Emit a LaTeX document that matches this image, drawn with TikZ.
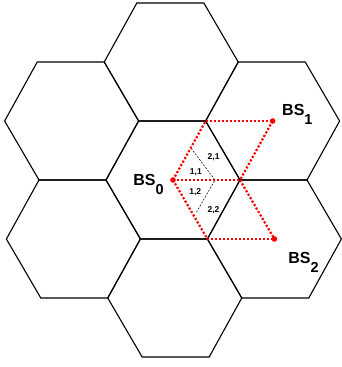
\documentclass[tikz,border=0pt]{standalone}
\usepackage{fontspec}
\usepackage{graphicx}
\setmainfont{Liberation Sans}
\begin{document}
\begin{tikzpicture}[x=1pt,y=-1pt,
  hexline/.style={line width=1.1pt,line join=miter},
  reddot/.style={draw=none,fill=red,circle,minimum size=5.6pt,inner sep=0pt},
  redline/.style={red,line width=2.2pt,dash pattern=on 2.1pt off 1.9pt},
  thindash/.style={black,line width=0.6pt,dash pattern=on 1.8pt off 1.6pt},
  bslabel/.style={inner sep=0pt,anchor=base west,font=\bfseries\fontsize{16}{16}\selectfont},
  small/.style={inner sep=0pt,font=\bfseries\fontsize{8.5}{8.5}\selectfont}]
\useasboundingbox (-173,-180) rectangle (168,187);
\begin{scope}[xslant=-0.015]
\foreach \cx/\cy in {0/0,0/-118,0/118,-100.5/-59,-100.5/59,100.5/-59,100.5/59}
  \draw[hexline] (\cx+67,\cy) -- (\cx+33.5,\cy+59) -- (\cx-33.5,\cy+59) -- (\cx-67,\cy)
     -- (\cx-33.5,\cy-59) -- (\cx+33.5,\cy-59) -- cycle;
\coordinate (T) at (33.5,-59);
\coordinate (R) at (67,0);
\coordinate (B) at (33.5,59);
\coordinate (P1) at (18.7,-31.7);
\coordinate (P2) at (42,0);
\coordinate (P3) at (22.5,33);
\draw[thindash] (P1) -- (P2) -- (P3);
\node[reddot] (bs0) at (0,0) {};
\node[reddot] (bs1) at (100.5,-59) {};
\node[reddot] (bs2) at (100.5,59) {};
\draw[redline] (bs0.center) -- (T);
\draw[redline] (bs0.center) -- (R);
\draw[redline] (bs0.center) -- (B);
\draw[redline] (T) -- (bs1.center);
\draw[redline] (bs1.center) -- (R);
\draw[redline] (R) -- (bs2.center);
\draw[redline] (B) -- (bs2.center);
\node[bslabel] (l0) at (-40,5) {BS\raisebox{-10pt}{\fontsize{14.5}{14.5}\selectfont 0}};
\node[bslabel] (l1) at (110,-65) {BS\raisebox{-9.5pt}{\fontsize{14.5}{14.5}\selectfont 1}};
\node[bslabel] (l2) at (114,83) {BS\raisebox{-9.5pt}{\fontsize{14.5}{14.5}\selectfont 2}};
\node[small] (a21) at (41,-23) {2,1};
\node[small] (a11) at (23,-8) {1,1};
\node[small] (a12) at (22,12.5) {1,2};
\node[small] (a22) at (40,30) {2,2};
\end{scope}
\end{tikzpicture}
\end{document}
